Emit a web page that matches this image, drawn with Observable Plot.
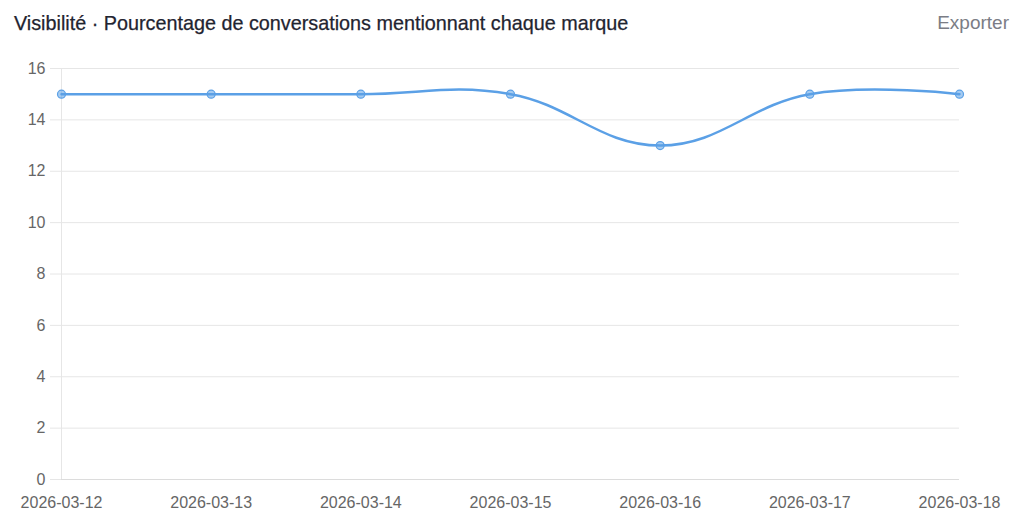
<!DOCTYPE html>
<html><head><meta charset="utf-8">
<script src="https://cdn.jsdelivr.net/npm/d3@7"></script>
<script src="https://cdn.jsdelivr.net/npm/@observablehq/plot@0.6"></script>
<style>
body{margin:0;background:#fff;font-family:"Liberation Sans","Noto Sans",sans-serif;}
#wrap{position:relative;width:1024px;height:532px;overflow:hidden;}
#head{position:relative;height:50px;}
#title{position:absolute;left:14px;top:12px;font-size:19.8px;color:#1f2430;white-space:nowrap;-webkit-text-stroke:0.25px #1f2430;}
#exp{position:absolute;right:15px;top:12px;font-size:19px;color:#7b7d85;}
</style></head>
<body><div id="wrap"><div id="head"><div id="title">Visibilité · Pourcentage de conversations mentionnant chaque marque</div><div id="exp">Exporter</div></div><div id="chart"></div></div>
<script>
const dates = ["2026-03-12","2026-03-13","2026-03-14","2026-03-15","2026-03-16","2026-03-17","2026-03-18"];
const values = [15, 15, 15, 15, 13, 15, 15];
const yTicks = [0, 2, 4, 6, 8, 10, 12, 14, 16];
const data = dates.map((d, i) => ({date: d, value: values[i]}));
const color = "#5ba0e6";
const chart = Plot.plot({
  width: 1024, height: 482,
  marginTop: 18, marginBottom: 53, marginLeft: 61, marginRight: 65,
  style: {fontFamily: "'Liberation Sans', sans-serif", fontSize: "15px", color: "#666"},
  x: {type: "point", domain: dates, padding: 0, round: false, label: null},
  y: {domain: [0, 16], label: null},
  marks: [
    Plot.gridY(yTicks, {stroke: "#e6e6e6", strokeOpacity: 1}),
    Plot.axisY(yTicks, {tickSize: 11, tickPadding: 5, stroke: "#e6e6e6", fill: "#666", fontSize: 16}),
    Plot.ruleX([dates[0]], {stroke: "#e6e6e6"}),
    Plot.ruleY([0], {stroke: "#dcdcdc"}),
    Plot.axisX(dates, {tickSize: 0, tickPadding: 17, fill: "#666", fontSize: 16}),
    Plot.line(data, {x: "date", y: "value", stroke: color, strokeWidth: 2.5, curve: d3.curveCardinal.tension(-0.2)}),
    Plot.dot(data, {x: "date", y: "value", r: 4, fill: color, fillOpacity: 0.55, stroke: color, strokeWidth: 1.2})
  ]
});
document.getElementById("chart").appendChild(chart);
</script></body></html>
